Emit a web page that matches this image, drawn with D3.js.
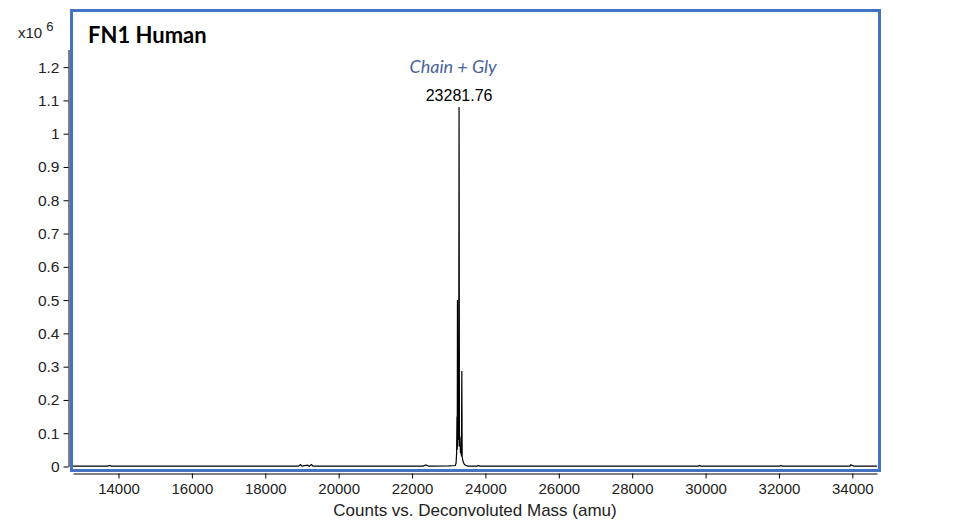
<!DOCTYPE html>
<html>
<head>
<meta charset="utf-8">
<script src="https://cdn.jsdelivr.net/npm/d3@7"></script>
<style>
  body { margin: 0; background: #fff; }
</style>
</head>
<body>
<div id="canvas"></div>
<script>
"use strict"

// deconvoluted mass (amu) and counts (x10^6)
let masses = [12760, 13700, 13760, 13800, 15000, 16500, 17500, 18900, 18960, 19000,
    19150, 19200, 19260, 19300, 19600, 20500, 21500, 22300, 22380, 22450,
    23000, 23180, 23200, 23215, 23225, 23232, 23238, 23244, 23252, 23262,
    23270, 23281.76, 23292, 23305, 23320, 23335, 23346, 23357, 23366, 23380,
    23400, 23430, 23470, 23520, 23780, 23800, 23850, 24500, 26000, 28000,
    29800, 29830, 29870, 31500, 32020, 32050, 32090, 33000, 33930, 33960,
    34000, 34040, 34672];
let counts = [0.001, 0.001, 0.003, 0.001, 0.001, 0.001, 0.001, 0.001, 0.006, 0.001,
    0.004, 0.001, 0.006, 0.001, 0.001, 0.001, 0.001, 0.001, 0.005, 0.001,
    0.002, 0.003, 0.010, 0.040, 0.150, 0.050, 0.500, 0.060, 0.120, 0.250,
    0.080, 1.080, 0.060, 0.090, 0.040, 0.050, 0.030, 0.287, 0.030, 0.020,
    0.012, 0.006, 0.003, 0.001, 0.001, 0.003, 0.001, 0.001, 0.001, 0.001,
    0.001, 0.003, 0.001, 0.001, 0.001, 0.003, 0.001, 0.001, 0.001, 0.005,
    0.003, 0.001, 0.001];

let xTicks = [14000, 16000, 18000, 20000, 22000, 24000, 26000, 28000, 30000, 32000, 34000];
let yTicks = [0, 0.1, 0.2, 0.3, 0.4, 0.5, 0.6, 0.7, 0.8, 0.9, 1, 1.1, 1.2];

let peakMass = 23281.76;
let peakLabel = "23281.76";
let peakName = "Chain + Gly";
let title = "FN1 Human";

const sans = "'Liberation Sans', Arial, sans-serif";

let drawing = d3.select("#canvas")
    .append("svg")
    .attr("width", 954)
    .attr("height", 525);

let x = d3.scaleLinear().domain([12760, 34672]).range([73, 877]);
let y = d3.scaleLinear().domain([0, 1.253]).range([466.5, 49.5]);

// x axis
let xAxis = drawing.append("g")
    .attr("transform", "translate(0,473.5)")
    .call(d3.axisBottom(x).tickValues(xTicks).tickSize(5).tickSizeOuter(0).tickPadding(5)
        .tickFormat(d3.format("d")));
xAxis.selectAll("text").style("font-size", "15px").style("font-family", sans).attr("fill", "#222");

// y axis
let yAxis = drawing.append("g")
    .attr("transform", "translate(68.5,0)")
    .call(d3.axisLeft(y).tickValues(yTicks).tickSize(5).tickSizeOuter(0).tickPadding(4)
        .tickFormat(d => String(+d.toFixed(1))));
yAxis.selectAll("text").style("font-size", "15.5px").style("font-family", sans).attr("fill", "#222");

// exponent label
let expo = drawing.append("text")
    .attr("x", 18)
    .attr("y", 38)
    .style("font-size", "15px")
    .style("font-family", sans)
    .attr("fill", "#222");
expo.append("tspan").text("x10 ");
expo.append("tspan").attr("dy", -7).style("font-size", "13px").text("6");

drawing.append("text")
    .attr("x", 475)
    .attr("y", 516)
    .attr("text-anchor", "middle")
    .style("font-size", "17px")
    .style("font-family", sans)
    .attr("fill", "#222")
    .text("Counts vs. Deconvoluted Mass (amu)");

// spectrum
let points = masses.map((m, i) => [m, counts[i]]);
drawing.append("path")
    .datum(points)
    .attr("fill", "none")
    .attr("stroke", "#000")
    .attr("stroke-width", 1.2)
    .attr("d", d3.line().x(d => x(d[0])).y(d => y(d[1])));

drawing.append("text")
    .attr("x", x(peakMass))
    .attr("y", y(1.080) - 6)
    .attr("text-anchor", "middle")
    .style("font-size", "16px")
    .style("font-family", sans)
    .attr("fill", "#000")
    .text(peakLabel);

drawing.append("text")
    .attr("x", x(peakMass) - 6)
    .attr("y", 73)
    .attr("text-anchor", "middle")
    .style("font-size", "18px")
    .style("font-style", "italic")
    .style("font-family", "Lato, sans-serif")
    .attr("fill", "#4a6499")
    .text(peakName);

// blue frame
drawing.append("rect")
    .attr("x", 71.5)
    .attr("y", 10.5)
    .attr("width", 808)
    .attr("height", 460)
    .attr("fill", "none")
    .attr("stroke", "#4472c4")
    .attr("stroke-width", 3);

drawing.append("text")
    .attr("x", 88)
    .attr("y", 43)
    .style("font-size", "22px")
    .style("font-weight", "bold")
    .style("font-family", "Lato, sans-serif")
    .attr("fill", "#000")
    .text(title);
</script>
</body>
</html>
